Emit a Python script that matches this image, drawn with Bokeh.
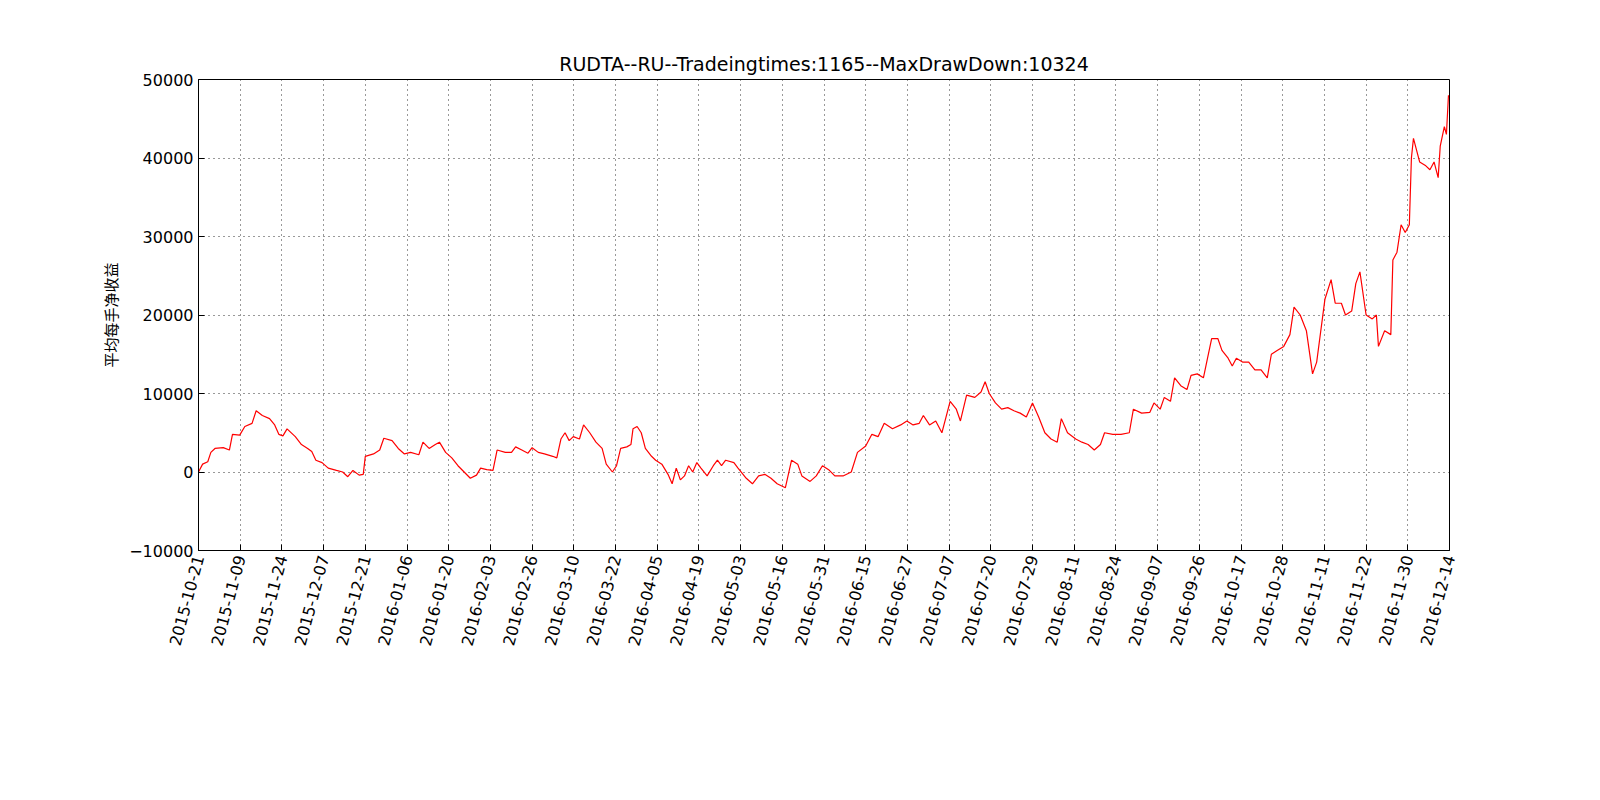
import numpy as np
from bokeh.plotting import figure
from bokeh.models import Range1d, FixedTicker
from bokeh.embed import file_html
from bokeh.resources import INLINE

date_labels = ["2015-10-21","2015-11-09","2015-11-24","2015-12-07","2015-12-21","2016-01-06",
    "2016-01-20","2016-02-03","2016-02-26","2016-03-10","2016-03-22","2016-04-05","2016-04-19",
    "2016-05-03","2016-05-16","2016-05-31","2016-06-15","2016-06-27","2016-07-07","2016-07-20",
    "2016-07-29","2016-08-11","2016-08-24","2016-09-07","2016-09-26","2016-10-17","2016-10-28",
    "2016-11-11","2016-11-22","2016-11-30","2016-12-14"]

trade_idx = [0,4,9,12,16,24,30,33,40,45,52,56,62,69,74,78,82,86,94,100,
    106,110,114,120,126,134,140,145,150,156,160,162,170,176,180,188,194,200,206,214,
    218,224,230,234,240,246,252,258,264,270,274,280,286,290,298,304,308,314,320,324,
    330,336,344,348,352,356,360,364,370,374,380,386,392,396,402,406,410,416,420,422,
    426,430,434,440,444,450,456,460,464,468,472,476,480,484,488,494,500,504,508,512,
    520,524,532,538,544,550,556,562,570,576,582,586,594,600,606,612,618,626,634,640,
    648,654,660,666,674,682,688,694,700,704,710,716,722,726,730,736,740,746,754,760,
    764,768,774,780,786,792,798,804,810,816,822,828,834,838,844,852,858,864,870,876,
    880,888,896,904,908,916,924,928,934,938,944,948,954,960,964,970,976,980,984,990,
    994,1000,1004,1008,1014,1020,1026,1032,1038,1042,1048,1054,1060,1064,1070,1076,1082,1086,1094,1100,
    1104,1110,1114,1120,1124,1128,1134,1140,1144,1146,1152,1158,1160,1164,1168,1172,1176,1178,1180,1186,
    1192,1196,1200,1204,1206,1210,1212,1214]

profit_k = [0,1,1.3,2.5,3,3.1,2.8,4.8,4.7,5.8,6.2,7.8,7.2,6.8,6.0,4.8,4.6,5.5,4.5,3.5,
    3,2.6,1.5,1.2,0.5,0.2,0,-0.6,0.2,-0.4,-0.3,2,2.3,2.8,4.3,4,3,2.3,2.5,2.2,
    3.8,3,3.5,3.8,2.5,1.8,0.8,0,-0.8,-0.4,0.5,0.3,0.2,2.8,2.5,2.5,3.2,2.8,2.4,3.1,
    2.5,2.3,2,1.8,4.2,5,4,4.5,4.2,6,5,3.8,3,1,0,0.8,3,3.2,3.5,5.5,
    5.8,5,3,2,1.5,1,-0.3,-1.5,0.5,-1,-0.5,0.8,0,1.2,0.5,-0.5,0.8,1.5,0.8,1.5,
    1.2,0.5,-0.8,-1.5,-0.5,-0.3,-0.8,-1.5,-2,1.5,1,-0.5,-1.2,-0.5,0.8,0.3,-0.5,-0.5,0,2.5,
    3.3,4.8,4.5,6.2,5.5,6,6.5,6,6.2,7.2,6,6.5,5,7,9,8,6.5,9.8,9.5,10.2,
    11.5,10,8.8,8,8.2,7.8,7.5,7,8.8,7,5,4.2,3.8,6.8,5,4.2,3.8,3.5,2.8,3.5,
    5,4.8,4.8,5,8,7.5,7.6,8.8,8,9.5,9,12,11,10.5,12.3,12.5,12,14.5,17,17,
    15.5,14.5,13.5,14.5,14,14,13,13,12,15,15.5,16,17.5,21,20,18,12.5,14,22,24.5,
    21.5,21.5,20,20.5,24,25.5,20,19.5,20,16,18,17.5,27,28,31.5,30.5,31.5,40,42.5,39.5,
    39,38.5,39.5,37.5,41.5,44,43,48]

y_ticks = [-10000,0,10000,20000,30000,40000,50000]

n = min(len(trade_idx), len(profit_k))
xs = np.array(trade_idx[:n], dtype=float)
ys = np.array(profit_k[:n], dtype=float) * 1000

x_end = 1215.0
tick_pos = [i * x_end / (len(date_labels) - 1) for i in range(len(date_labels))]

p = figure(width=1584, height=784, output_backend="svg", toolbar_location=None,
           x_range=Range1d(0, x_end), y_range=Range1d(-10000, 50000),
           min_border_left=198, min_border_right=135, min_border_top=79, min_border_bottom=234,
           title="RUDTA--RU--Tradeingtimes:1165--MaxDrawDown:10324")
p.title.align = "center"
p.title.text_font = "DejaVu Sans"
p.title.text_font_size = "19px"
p.title.text_font_style = "normal"
p.title.text_color = "black"

p.line(xs, ys, line_color="red", line_width=1.2)

p.xaxis.ticker = FixedTicker(ticks=tick_pos)
p.xaxis.major_label_overrides = {t: l for t, l in zip(tick_pos, date_labels)}
p.xaxis.major_label_orientation = np.deg2rad(75)
p.yaxis.ticker = FixedTicker(ticks=y_ticks)
p.yaxis.formatter.use_scientific = False
for ax in (p.xaxis, p.yaxis):
    ax.major_label_text_font = "DejaVu Sans"
    ax.major_label_text_font_size = "16px"
    ax.major_label_text_color = "black"
    ax.major_tick_in = 6
    ax.major_tick_out = 0
    ax.minor_tick_line_color = None
    ax.axis_line_color = "black"
    ax.major_tick_line_color = "black"
p.yaxis.axis_label = "平均每手净收益"
p.yaxis.axis_label_text_font = "Noto Sans CJK SC"
p.yaxis.axis_label_text_font_size = "15px"
p.yaxis.axis_label_text_font_style = "normal"
p.yaxis.axis_label_text_color = "black"

p.grid.grid_line_color = "black"
p.grid.grid_line_dash = "1 4"
p.grid.grid_line_alpha = 0.8
p.outline_line_color = "black"
p.outline_line_alpha = 1

open("out.html", "w").write(file_html(p, INLINE))
